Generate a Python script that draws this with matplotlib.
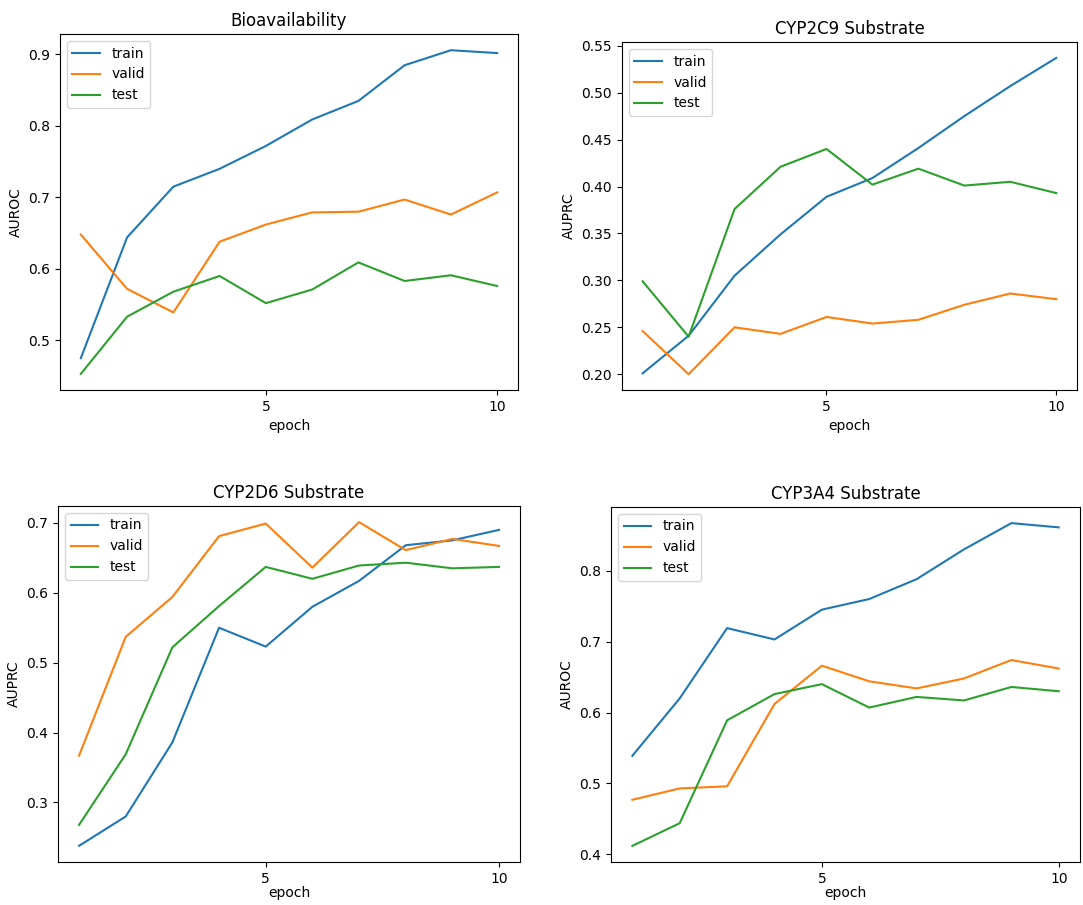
import matplotlib
matplotlib.use("Agg")
from matplotlib import pyplot as plt

epochs = [1, 2, 3, 4, 5, 6, 7, 8, 9, 10]

# Bioavailability (AUROC)
bio_train = [0.475, 0.644, 0.715, 0.740, 0.772, 0.809, 0.835, 0.885, 0.906, 0.902]
bio_valid = [0.648, 0.572, 0.539, 0.638, 0.662, 0.679, 0.680, 0.697, 0.676, 0.707]
bio_test = [0.453, 0.533, 0.568, 0.590, 0.552, 0.571, 0.609, 0.583, 0.591, 0.576]

# CYP2C9 Substrate (AUPRC)
c2c9_train = [0.201, 0.241, 0.305, 0.349, 0.389, 0.409, 0.441, 0.475, 0.507, 0.537]
c2c9_valid = [0.246, 0.200, 0.250, 0.243, 0.261, 0.254, 0.258, 0.274, 0.286, 0.280]
c2c9_test = [0.299, 0.240, 0.376, 0.421, 0.440, 0.402, 0.419, 0.401, 0.405, 0.393]

# CYP2D6 Substrate (AUPRC)
c2d6_train = [0.238, 0.280, 0.386, 0.550, 0.523, 0.580, 0.617, 0.668, 0.675, 0.690]
c2d6_valid = [0.367, 0.537, 0.594, 0.681, 0.699, 0.636, 0.701, 0.661, 0.677, 0.667]
c2d6_test = [0.268, 0.369, 0.522, 0.581, 0.637, 0.620, 0.639, 0.643, 0.635, 0.637]

# CYP3A4 Substrate (AUROC)
c3a4_train = [0.539, 0.620, 0.719, 0.703, 0.745, 0.760, 0.788, 0.830, 0.867, 0.861]
c3a4_valid = [0.477, 0.493, 0.496, 0.612, 0.666, 0.644, 0.634, 0.648, 0.674, 0.662]
c3a4_test = [0.412, 0.444, 0.589, 0.626, 0.640, 0.607, 0.622, 0.617, 0.636, 0.630]

# title, y label, series, axes rect, x label pad
panels = [
    ("Bioavailability", "AUROC", bio_train, bio_valid, bio_test,
     [0.0554, 0.569, 0.4229, 0.3934], 4),
    ("CYP2C9 Substrate", "AUPRC", c2c9_train, c2c9_valid, c2c9_test,
     [0.5743, 0.569, 0.4201, 0.3845], 4),
    ("CYP2D6 Substrate", "AUPRC", c2d6_train, c2d6_valid, c2d6_test,
     [0.0536, 0.0475, 0.4266, 0.3934], 0),
    ("CYP3A4 Substrate", "AUROC", c3a4_train, c3a4_valid, c3a4_test,
     [0.5642, 0.0475, 0.4331, 0.3923], 0),
]

fig = plt.figure(figsize=(10.83, 9.05), dpi=100)

for title, ylabel, train, valid, test, rect, pad in panels:
    ax = fig.add_axes(rect)
    ax.plot(epochs, train, label="train")
    ax.plot(epochs, valid, label="valid")
    ax.plot(epochs, test, label="test")
    ax.set_xticks([5, 10])
    ax.set_title(title)
    ax.set_xlabel("epoch", labelpad=pad)
    ax.set_ylabel(ylabel)
    ax.legend(loc="upper left")

fig.savefig("out.png", dpi=100)
